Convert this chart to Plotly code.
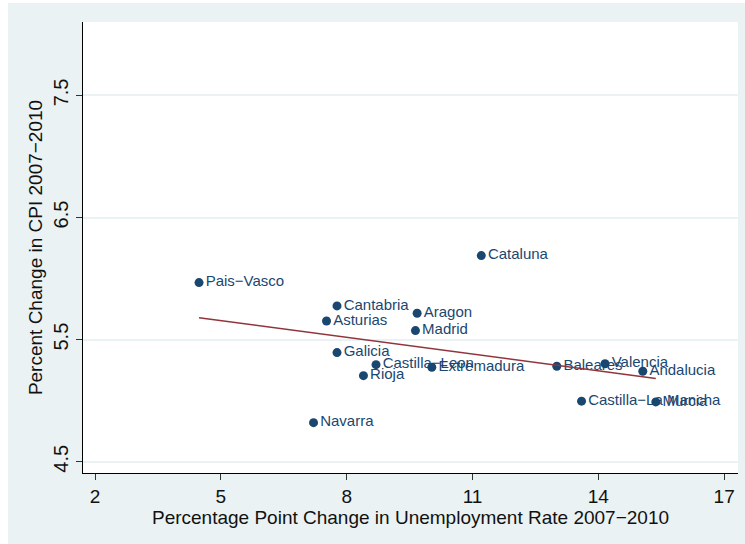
import numpy as np
import plotly.graph_objects as go

regions = ["Pais−Vasco", "Cantabria", "Asturias", "Aragon", "Madrid", "Galicia",
           "Castilla−Leon", "Rioja", "Extremadura", "Navarra", "Cataluna",
           "Baleares", "Valencia", "Andalucia", "Castilla−La Mancha", "Murcia"]
unemp_change = [4.48, 7.77, 7.52, 9.68, 9.64, 7.77, 8.70, 8.40, 10.03, 7.21, 11.21,
                13.01, 14.16, 15.06, 13.60, 15.37]
cpi_change = [5.967, 5.776, 5.653, 5.716, 5.574, 5.394, 5.295, 5.205, 5.274, 4.820, 6.188,
              5.282, 5.303, 5.241, 4.996, 4.990]
x_ticks = [2, 5, 8, 11, 14, 17]
y_ticks = [4.5, 5.5, 6.5, 7.5]

NAVY = "#1a476f"
MAROON = "#90353b"
BG = "#eaf2f3"
FONT = "Liberation Sans"

x = np.array(unemp_change)
y = np.array(cpi_change)
slope, intercept = np.polyfit(x, y, 1)
xf = np.array([x.min(), x.max()])
yf = intercept + slope * xf

fig = go.Figure()
fig.add_trace(go.Scatter(
    x=unemp_change, y=cpi_change, mode="markers+text", text=regions,
    textposition="middle right",
    textfont=dict(family=FONT, size=15, color=NAVY),
    marker=dict(color=NAVY, size=9, line=dict(width=0)),
    showlegend=False, cliponaxis=False))
fig.add_trace(go.Scatter(
    x=xf, y=yf, mode="lines", line=dict(color=MAROON, width=1.5),
    showlegend=False))

W, H = 745, 544
L, R, T, B = 83, 7, 22, 71
pw, ph = W - L - R, H - T - B

fig.update_layout(
    width=W, height=H,
    margin=dict(l=L, r=R, t=T, b=B, pad=0),
    paper_bgcolor=BG, plot_bgcolor="white",
    font=dict(family=FONT, color="#222222", size=16),
    shapes=[
        dict(type="rect", xref="paper", yref="paper",
             x0=-L / pw, x1=-(L - 8) / pw, y0=-B / ph, y1=1 + T / ph,
             fillcolor="white", line=dict(width=0), layer="below"),
        dict(type="rect", xref="paper", yref="paper",
             x0=-L / pw, x1=1 + R / pw, y0=1 + (T - 3) / ph, y1=1 + T / ph,
             fillcolor="white", line=dict(width=0), layer="below"),
    ],
    xaxis=dict(
        range=[1.714, 17.33], tickvals=x_ticks, ticktext=[str(v) for v in x_ticks],
        showgrid=False, zeroline=False,
        showline=True, linecolor="#000000", linewidth=1,
        ticks="outside", ticklen=6, tickcolor="#333333", tickwidth=1,
        tickfont=dict(size=19, color="#111111"),
        title=dict(text="Percentage Point Change in Unemployment Rate 2007−2010",
                   font=dict(size=19, color="#111111"), standoff=2),
    ),
    yaxis=dict(
        range=[4.408, 8.101], tickvals=y_ticks, ticktext=[str(v) for v in y_ticks],
        showgrid=True, gridcolor=BG, gridwidth=1.5, zeroline=False,
        showline=True, linecolor="#000000", linewidth=1,
        ticks="outside", ticklen=6, tickcolor="#333333", tickwidth=1,
        tickangle=-90,
        tickfont=dict(size=20, color="#111111"),
        title=dict(text="Percent Change in CPI 2007−2010",
                   font=dict(size=19, color="#111111"), standoff=2),
    ),
)

fig.write_html("out.html")
